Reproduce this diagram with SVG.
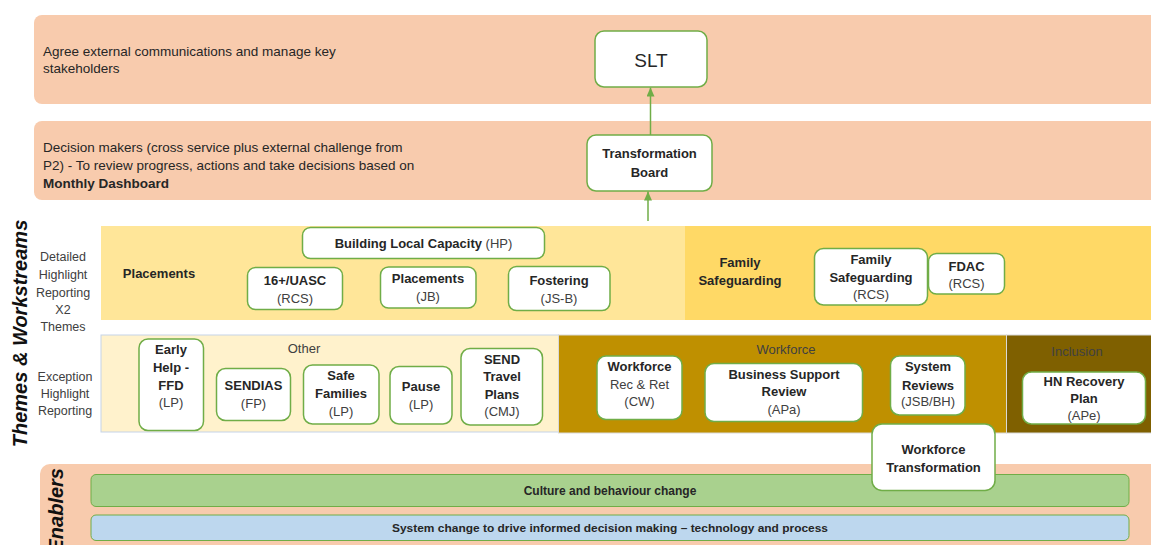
<svg xmlns="http://www.w3.org/2000/svg" width="1151" height="545" viewBox="0 0 1151 545">
<style>
  text { font-family: "Liberation Sans", Arial, sans-serif; fill: #262626; }
  .desc { font-size: 13.5px; }
  .box { fill: #ffffff; stroke: #70AD47; stroke-width: 1.5; }
  .b { font-weight: bold; font-size: 13px; text-anchor: middle; }
  .r { font-size: 13px; fill: #404040; text-anchor: middle; }
  .lbl { font-weight: bold; font-size: 13px; text-anchor: middle; }
  .side { font-size: 12.5px; fill: #404040; text-anchor: middle; }
  .sec { font-size: 13px; fill: #404040; text-anchor: middle; }
  .conn { stroke: #70AD47; stroke-width: 1.5; fill: none; }
  .rot { font-weight: bold; font-style: italic; font-size: 20px; fill: #111; }
</style>
<defs>
  <marker id="ah" markerWidth="9" markerHeight="8" refX="9" refY="4" orient="auto" markerUnits="userSpaceOnUse">
    <path d="M0,0 L9,4 L0,8 z" fill="#70AD47"/>
  </marker>
</defs>

<g id="bands">
  <rect x="34" y="15" width="1140" height="89" rx="8" fill="#F8CBAD"/>
  <rect x="34" y="121" width="1140" height="79" rx="8" fill="#F8CBAD"/>
  <rect x="101" y="226" width="584" height="94" fill="#FFE699"/>
  <rect x="685" y="226" width="470" height="94" fill="#FFD966"/>
  <rect x="101" y="335" width="457.5" height="97" fill="#FFF2CC" stroke="#C5D3E8" stroke-width="1"/>
  <rect x="558.5" y="335" width="448" height="98" fill="#BF9000" stroke="#D9D9D9" stroke-width="1"/>
  <rect x="1006.5" y="335" width="150" height="98" fill="#7F6000" stroke="#D9D9D9" stroke-width="1"/>
  <rect x="40" y="464" width="1130" height="100" rx="10" fill="#F8CBAD"/>
</g>

<g id="band-texts">
  <text class="desc" x="43" y="56">Agree external communications and manage key</text>
  <text class="desc" x="43" y="73">stakeholders</text>
  <text class="desc" x="43" y="152">Decision makers (cross service plus external challenge from</text>
  <text class="desc" x="43" y="170">P2) - To review progress, actions and take decisions based on</text>
  <text class="desc" x="43" y="188" font-weight="bold">Monthly Dashboard</text>

  <text class="rot" transform="translate(27,333.5) rotate(-90)" text-anchor="middle">Themes &amp; Workstreams</text>
  <text class="rot" transform="translate(63,468) rotate(-90)" text-anchor="end">Enablers</text>

  <text class="side" x="63" y="261">Detailed</text>
  <text class="side" x="63" y="279">Highlight</text>
  <text class="side" x="63" y="297">Reporting</text>
  <text class="side" x="63" y="314">X2</text>
  <text class="side" x="63" y="331">Themes</text>

  <text class="side" x="65" y="381">Exception</text>
  <text class="side" x="65" y="398">Highlight</text>
  <text class="side" x="65" y="415">Reporting</text>

  <text class="lbl" x="159" y="278">Placements</text>
  <text class="lbl" x="740" y="267">Family</text>
  <text class="lbl" x="740" y="285">Safeguarding</text>

  <text class="sec" x="304" y="353">Other</text>
  <text class="sec" x="786" y="354" fill="#2b2b2b">Workforce</text>
  <text class="sec" x="1077" y="356" fill="#2b2b2b">Inclusion</text>
</g>

<g id="connectors">
  <line class="conn" x1="650.5" y1="135" x2="650.5" y2="87.5" marker-end="url(#ah)"/>
  <line class="conn" x1="648" y1="221" x2="648" y2="191.5" marker-end="url(#ah)"/>
</g>

<g id="slt">
  <rect class="box" x="595" y="31" width="112" height="56" rx="9"/>
  <text x="651" y="67" font-size="19" text-anchor="middle">SLT</text>
</g>

<g id="transformation-board">
  <rect class="box" x="587" y="135" width="125" height="56" rx="9"/>
  <text class="b" x="649.5" y="158">Transformation</text>
  <text class="b" x="649.5" y="177">Board</text>
</g>

<g id="building-local-capacity">
  <rect class="box" x="302.5" y="227.5" width="242" height="31" rx="8"/>
  <text x="423.5" y="248" text-anchor="middle" font-size="13"><tspan font-weight="bold">Building Local Capacity</tspan><tspan fill="#404040"> (HP)</tspan></text>
</g>

<g id="uasc">
  <rect class="box" x="247.5" y="267.5" width="95" height="42" rx="8"/>
  <text class="b" x="295" y="285">16+/UASC</text>
  <text class="r" x="295" y="303">(RCS)</text>
</g>

<g id="placements">
  <rect class="box" x="380.5" y="267" width="95.5" height="41" rx="8"/>
  <text class="b" x="428" y="283">Placements</text>
  <text class="r" x="428" y="301">(JB)</text>
</g>

<g id="fostering">
  <rect class="box" x="508.5" y="266.5" width="101.5" height="44" rx="8"/>
  <text class="b" x="559" y="285">Fostering</text>
  <text class="r" x="559" y="303">(JS-B)</text>
</g>

<g id="family-safeguarding">
  <rect class="box" x="814.5" y="248.5" width="113" height="56.5" rx="9"/>
  <text class="b" x="871" y="263.5">Family</text>
  <text class="b" x="871" y="281.5">Safeguarding</text>
  <text class="r" x="871" y="298.5">(RCS)</text>
</g>

<g id="fdac">
  <rect class="box" x="928.5" y="253.5" width="76" height="40.5" rx="8"/>
  <text class="b" x="966.5" y="270.5">FDAC</text>
  <text class="r" x="966.5" y="288">(RCS)</text>
</g>

<g id="early-help">
  <rect class="box" x="139" y="339" width="64.5" height="91.5" rx="9"/>
  <text class="b" x="171" y="354">Early</text>
  <text class="b" x="171" y="372">Help -</text>
  <text class="b" x="171" y="389.5">FFD</text>
  <text class="r" x="171" y="407">(LP)</text>
</g>

<g id="sendias">
  <rect class="box" x="216.5" y="368.5" width="74" height="52" rx="9"/>
  <text class="b" x="253.5" y="390">SENDIAS</text>
  <text class="r" x="253.5" y="408">(FP)</text>
</g>

<g id="safe-families">
  <rect class="box" x="303.5" y="365" width="75.5" height="59" rx="9"/>
  <text class="b" x="341" y="380">Safe</text>
  <text class="b" x="341" y="398">Families</text>
  <text class="r" x="341" y="416">(LP)</text>
</g>

<g id="pause">
  <rect class="box" x="390" y="366.5" width="62" height="57.5" rx="9"/>
  <text class="b" x="421" y="390.5">Pause</text>
  <text class="r" x="421" y="408.5">(LP)</text>
</g>

<g id="send-travel">
  <rect class="box" x="461" y="348.5" width="81.5" height="76.5" rx="9"/>
  <text class="b" x="502" y="363.5">SEND</text>
  <text class="b" x="502" y="381">Travel</text>
  <text class="b" x="502" y="398.5">Plans</text>
  <text class="r" x="502" y="416">(CMJ)</text>
</g>

<g id="workforce-rec">
  <rect class="box" x="597" y="356" width="85" height="63.5" rx="9"/>
  <text class="b" x="639.5" y="371">Workforce</text>
  <text class="r" x="639.5" y="388.5">Rec &amp; Ret</text>
  <text class="r" x="639.5" y="406">(CW)</text>
</g>

<g id="business-support">
  <rect class="box" x="705" y="363.5" width="157.5" height="58" rx="9"/>
  <text class="b" x="784" y="378.5">Business Support</text>
  <text class="b" x="784" y="396">Review</text>
  <text class="r" x="784" y="413.5">(APa)</text>
</g>

<g id="system-reviews">
  <rect class="box" x="890.5" y="356" width="74.5" height="59" rx="9"/>
  <text class="b" x="928" y="371">System</text>
  <text class="b" x="928" y="389.5">Reviews</text>
  <text class="r" x="928" y="406">(JSB/BH)</text>
</g>

<g id="hn-recovery">
  <rect class="box" x="1022.5" y="372" width="123" height="52" rx="9"/>
  <text class="b" x="1084" y="385.5">HN Recovery</text>
  <text class="b" x="1084" y="403">Plan</text>
  <text class="r" x="1084" y="420">(APe)</text>
</g>

<g id="culture">
  <rect x="91" y="474.5" width="1038" height="32" rx="5" fill="#A9D18E" stroke="#70AD47" stroke-width="1"/>
  <text x="610" y="495" text-anchor="middle" font-size="12" font-weight="bold">Culture and behaviour change</text>
</g>

<g id="system-change">
  <rect x="91" y="515" width="1038" height="25.5" rx="5" fill="#BDD7EE" stroke="#70AD47" stroke-width="1"/>
  <text x="610" y="532" text-anchor="middle" font-size="11.5" font-weight="bold" textLength="436" lengthAdjust="spacingAndGlyphs">System change to drive informed decision making – technology and process</text>
</g>

<g id="workforce-transformation">
  <rect class="box" x="872" y="424" width="123" height="66.5" rx="10"/>
  <text class="b" x="933.5" y="453.5">Workforce</text>
  <text class="b" x="933.5" y="472">Transformation</text>
</g>
</svg>
